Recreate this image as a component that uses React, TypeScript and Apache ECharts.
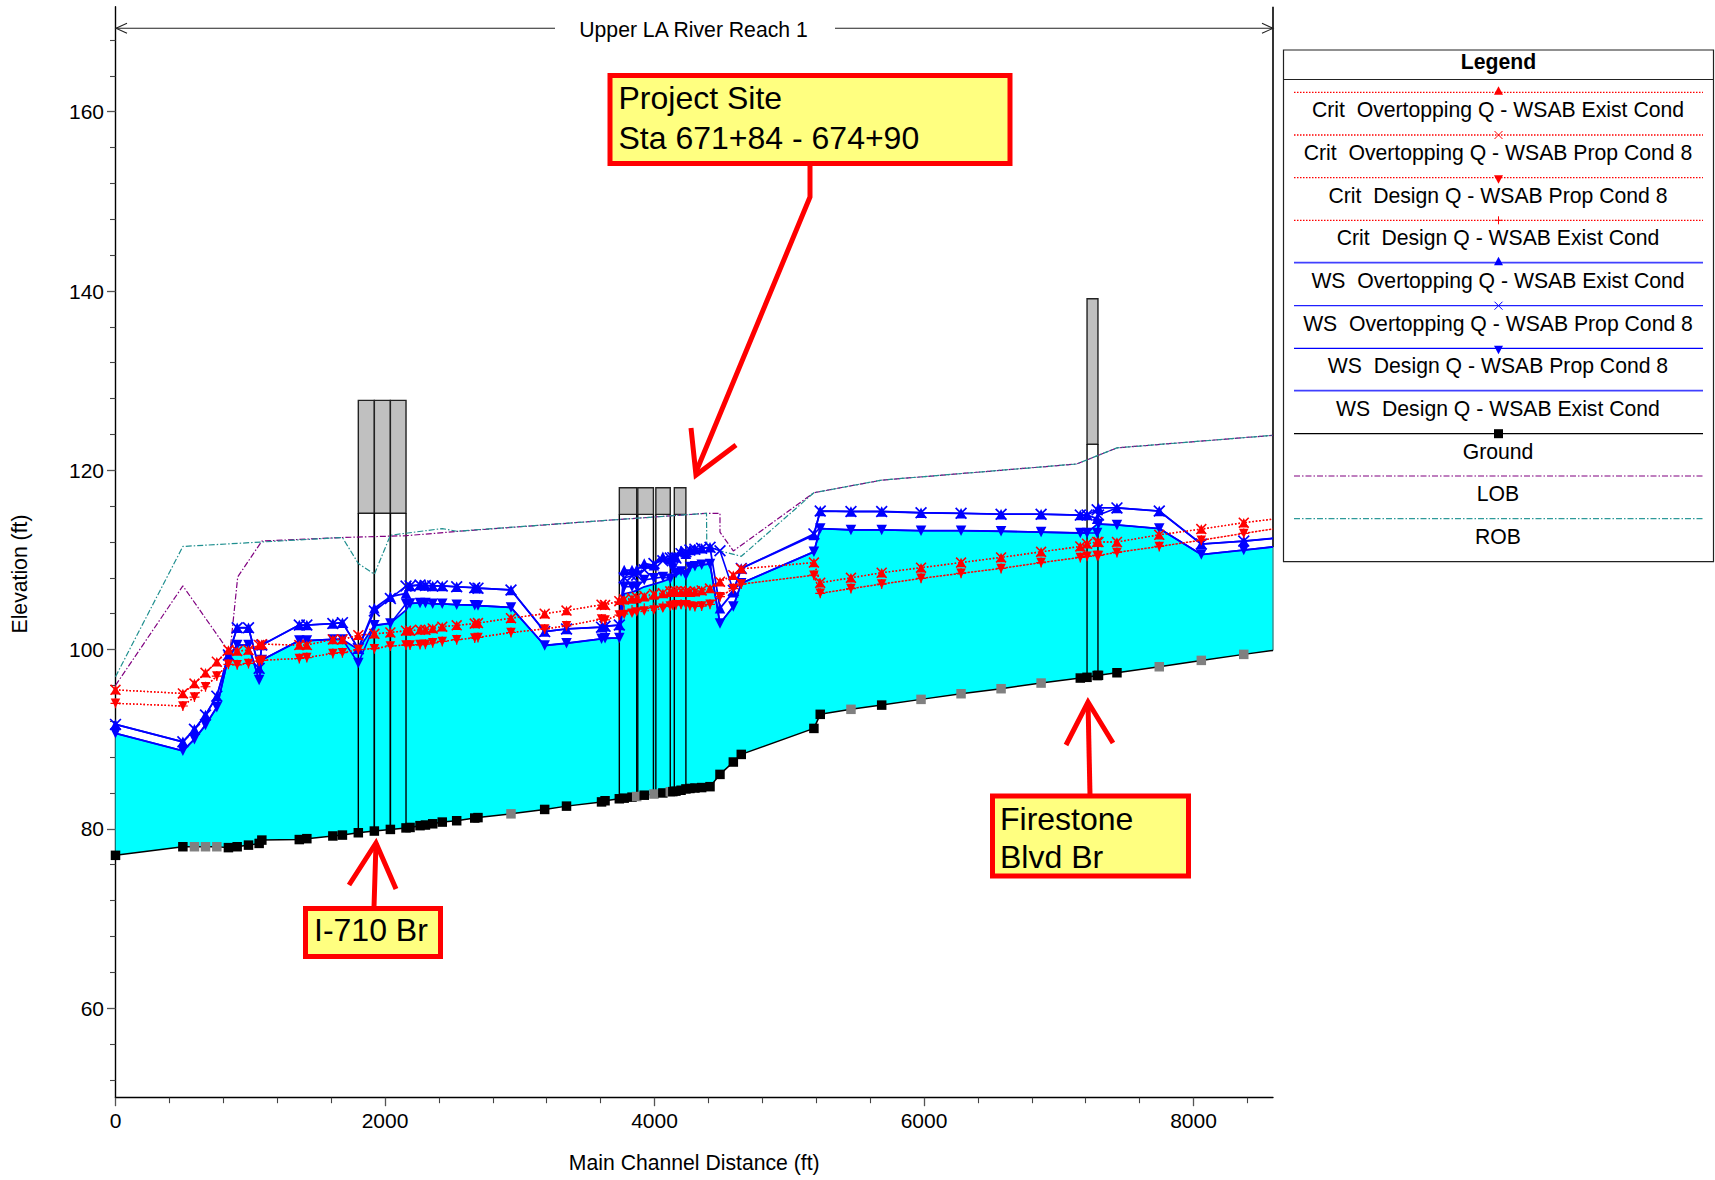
import React, { useEffect, useRef } from "react";
import * as echarts from "echarts";

const FONT = "'Liberation Sans', Arial, sans-serif";

const stations = [
  0, 500, 586, 668, 752, 838, 903, 987, 1066, 1086,
  1364, 1420, 1613, 1684, 1802, 1921, 2040, 2156, 2186, 2260,
  2300, 2354, 2425, 2532, 2666, 2690, 2935, 3185, 3347, 3607,
  3633, 3739, 3775, 3833, 3868, 3924, 3996, 4062, 4117, 4136,
  4159, 4197, 4233, 4263, 4300, 4350, 4412, 4486, 4585, 4644,
  5183, 5230, 5458, 5686, 5978, 6275, 6572, 6869, 7160, 7210,
  7285, 7295, 7432, 7746, 8058, 8373, 8590,
];
const ground = [
  77.04, 78.0, 78.0, 78.0, 78.0, 77.9, 78.0, 78.18, 78.37, 78.74,
  78.8, 78.9, 79.2, 79.3, 79.56, 79.75, 79.93, 80.1, 80.15, 80.35,
  80.42, 80.56, 80.75, 80.9, 81.2, 81.25, 81.67, 82.16, 82.53, 83.0,
  83.13, 83.35, 83.42, 83.53, 83.6, 83.75, 83.88, 84.0, 84.13, 84.15,
  84.2, 84.3, 84.45, 84.5, 84.55, 84.6, 84.7, 86.07, 87.45, 88.3,
  91.2, 92.77, 93.33, 93.8, 94.44, 95.07, 95.63, 96.26, 96.82, 96.9,
  97.1, 97.12, 97.41, 98.08, 98.79, 99.46, 99.9,
];
const grayGroundStations = [586, 668, 752, 2935, 3868, 3996, 4117, 5458, 5978, 6275, 6572, 6869, 7746, 8058, 8373];

const wsOverExist = [
  91.65, 89.7, 91.1, 92.7, 94.8, 99.4, 102.43, 102.43, 97.9, 100.5,
  102.73, 102.73, 102.9, 103.0, 100.1, 104.6, 105.9, 106.27, 107.1, 107.2,
  107.15, 107.1, 107.1, 107.0, 106.9, 106.85, 106.65, 102.0, 102.3, 102.5,
  102.6, 102.73, 108.87, 108.87, 108.9, 109.6, 109.4, 110.36, 110.1, 110.36,
  110.3, 111.03, 110.7, 111.1, 111.2, 111.3, 111.4, 104.6, 106.4, 109.05,
  112.77, 115.45, 115.4, 115.4, 115.26, 115.2, 115.1, 115.1, 115.0, 115.0,
  114.6, 115.8, 115.8, 115.45, 111.77, 112.1, 112.4,
];
const wsOverProp = [
  91.65, 89.7, 91.1, 92.7, 94.8, 99.4, 102.43, 102.43, 97.9, 100.5,
  102.73, 102.73, 102.9, 103.0, 100.1, 104.3, 105.7, 107.08, 107.1, 107.2,
  107.15, 107.1, 107.1, 107.0, 106.9, 106.85, 106.65, 102.0, 102.3, 102.5,
  102.6, 102.73, 108.0, 108.2, 108.3, 108.9, 109.6, 109.9, 110.2, 110.25,
  110.2, 110.7, 110.9, 111.1, 111.2, 111.3, 111.4, 111.03, 106.6, 109.05,
  112.9, 115.45, 115.4, 115.4, 115.26, 115.2, 115.1, 115.1, 115.0, 115.0,
  115.6, 115.0, 115.8, 115.45, 111.77, 112.1, 112.4,
];
const wsDesignProp = [
  90.65, 88.7, 90.0, 91.57, 93.55, 99.2, 100.5, 100.5, 96.6, 98.83,
  101.0, 101.0, 101.13, 101.13, 98.5, 102.7, 102.9, 105.1, 105.15, 105.2,
  105.2, 105.1, 105.1, 105.0, 104.95, 104.9, 104.7, 100.45, 100.7, 101.2,
  101.25, 101.3, 107.0, 107.0, 107.0, 107.75, 107.94, 108.1, 107.9, 109.05,
  108.5, 108.7, 108.3, 109.2, 109.3, 109.45, 109.55, 102.9, 104.8, 107.4,
  110.9, 113.5, 113.35, 113.35, 113.26, 113.26, 113.2, 113.1, 113.0, 113.0,
  113.0, 114.0, 113.9, 113.5, 110.6, 111.1, 111.45,
];
const wsDesignExist = [
  90.65, 88.7, 90.0, 91.57, 93.55, 99.2, 100.5, 100.5, 96.6, 98.83,
  101.0, 101.0, 101.13, 101.13, 100.0, 102.7, 102.95, 104.4, 105.15, 105.2,
  105.2, 105.1, 105.1, 105.0, 104.95, 104.9, 104.7, 100.45, 100.7, 101.2,
  101.25, 101.3, 106.2, 106.4, 106.6, 107.0, 107.3, 107.6, 107.9, 108.2,
  108.3, 108.6, 108.8, 109.2, 109.3, 109.45, 109.55, 102.9, 104.8, 107.4,
  110.9, 113.5, 113.35, 113.35, 113.26, 113.26, 113.2, 113.1, 113.0, 113.0,
  114.0, 114.0, 113.9, 113.5, 110.6, 111.1, 111.45,
];
const critOverExist = [
  95.5, 95.1, 96.2, 97.4, 98.64, 99.94, 99.83, 99.94, 100.5, 100.6,
  100.5, 100.5, 101.13, 101.13, 101.6, 101.75, 101.9, 102.1, 102.1, 102.2,
  102.2, 102.35, 102.55, 102.7, 102.9, 102.95, 103.5, 104.0, 104.35, 105.0,
  104.96, 105.5, 105.55, 105.65, 105.7, 105.9, 106.08, 106.25, 106.4, 106.4,
  106.4, 106.4, 106.4, 106.4, 106.45, 106.6, 106.8, 107.57, 108.3, 109.0,
  109.7, 107.45, 108.0, 108.57, 109.13, 109.7, 110.28, 110.9, 111.5, 111.8,
  112.0, 112.0, 112.0, 112.8, 113.44, 114.15, 114.55,
];
const critOverProp = [
  95.5, 95.1, 96.2, 97.4, 98.64, 99.94, 99.83, 99.94, 100.5, 100.6,
  100.5, 100.5, 101.13, 101.13, 101.6, 101.75, 101.9, 102.1, 102.1, 102.2,
  102.2, 102.35, 102.55, 102.7, 102.9, 102.95, 103.5, 104.0, 104.35, 105.0,
  104.96, 105.4, 105.6, 105.75, 105.85, 106.0, 106.2, 106.3, 106.5, 106.5,
  106.5, 106.55, 106.5, 106.45, 106.5, 106.6, 106.8, 107.57, 108.3, 109.0,
  109.7, 107.45, 108.0, 108.57, 109.13, 109.7, 110.28, 110.9, 111.5, 111.8,
  112.0, 112.0, 112.0, 112.8, 113.44, 114.15, 114.55,
];
const critDesignProp = [
  94.0, 93.7, 94.7, 95.85, 97.04, 98.35, 98.3, 98.45, 98.7, 98.8,
  99.0, 99.1, 99.57, 99.65, 100.0, 100.1, 100.4, 100.5, 100.5, 100.55,
  100.6, 100.75, 100.9, 101.1, 101.3, 101.35, 101.9, 102.3, 102.65, 103.4,
  103.3, 103.85, 103.9, 104.05, 104.2, 104.3, 104.4, 104.6, 104.85, 104.9,
  105.0, 105.0, 105.0, 104.85, 104.8, 104.85, 105.05, 105.9, 106.8, 107.3,
  108.3, 106.27, 106.8, 107.3, 107.94, 108.5, 109.05, 109.7, 110.28, 110.4,
  110.5, 110.5, 110.84, 111.5, 112.2, 112.96, 113.45,
];
const critDesignExist = [
  94.0, 93.7, 94.7, 95.85, 97.04, 98.35, 98.3, 98.45, 98.7, 98.8,
  99.0, 99.1, 99.57, 99.65, 100.0, 100.1, 100.4, 100.5, 100.5, 100.55,
  100.6, 100.75, 100.9, 101.1, 101.3, 101.35, 101.9, 102.3, 102.65, 103.4,
  103.3, 103.85, 104.3, 104.4, 104.5, 104.6, 104.7, 104.8, 104.9, 105.0,
  105.0, 105.05, 105.05, 104.9, 104.8, 104.85, 105.05, 105.9, 106.8, 107.3,
  108.3, 106.27, 106.8, 107.3, 107.94, 108.5, 109.05, 109.7, 110.28, 110.4,
  110.5, 110.5, 110.84, 111.5, 112.2, 112.96, 113.45,
];

const lobX = [0, 500, 812, 850, 907, 1086, 1684, 2156, 2557, 3633, 4386, 4486, 4486, 4585, 5183, 5686, 7133, 7432, 8590];
const lobY = [96, 107.1, 100.4, 99.8, 108.1, 112.1, 112.5, 112.7, 113.2, 114.4, 115.2, 115.2, 113.1, 111.0, 117.5, 118.9, 120.7, 122.5, 123.9];
const robX = [0, 500, 1086, 1684, 1802, 1921, 2040, 2425, 2532, 3633, 4386, 4388, 4486, 4644, 5183, 5686, 7133, 7432, 8590];
const robY = [96.97, 111.5, 112.0, 112.5, 109.6, 108.4, 112.75, 113.5, 113.2, 114.4, 115.2, 111.8, 111.0, 110.4, 117.5, 118.9, 120.7, 122.5, 123.9];

// bridge decks: x1, x2, ground at x1, ground at x2, deck low chord, deck top
const bridgeDecks = [
  [1802, 1921, 79.56, 79.75, 115.2, 127.8],
  [1921, 2040, 79.75, 79.93, 115.2, 127.8],
  [2040, 2156, 79.93, 80.1, 115.2, 127.8],
  [3739, 3868, 83.35, 83.6, 115.08, 118.05],
  [3876, 3992, 83.62, 83.87, 115.08, 118.05],
  [4010, 4117, 83.9, 84.13, 115.08, 118.05],
  [4147, 4233, 84.17, 84.45, 115.08, 118.05],
  [7210, 7291, 96.9, 97.12, 122.9, 139.13],
];

const yLabelTicks = [60, 80, 100, 120, 140, 160];
const yMinorTicks = [52, 56, 64, 68, 72, 76, 84, 88, 92, 96, 104, 108, 112, 116, 124, 128, 132, 136, 144, 148, 152, 156, 164, 168];
const xLabelTicks = [0, 2000, 4000, 6000, 8000];
const xMinorTicks = [400, 800, 1200, 1600, 2400, 2800, 3200, 3600, 4400, 4800, 5200, 5600, 6400, 6800, 7200, 7600, 8400];

const legendLabels = [
  "Crit  Overtopping Q - WSAB Exist Cond",
  "Crit  Overtopping Q - WSAB Prop Cond 8",
  "Crit  Design Q - WSAB Prop Cond 8",
  "Crit  Design Q - WSAB Exist Cond",
  "WS  Overtopping Q - WSAB Exist Cond",
  "WS  Overtopping Q - WSAB Prop Cond 8",
  "WS  Design Q - WSAB Prop Cond 8",
  "WS  Design Q - WSAB Exist Cond",
  "Ground",
  "LOB",
  "ROB",
];

const X_MAX = 8590;
const Y_MIN = 50;
const Y_MAX = 171.72;
const GRID = { left: 115.5, top: 6.7, width: 1157.5, height: 1091 };
const TEXT_SIZE = 21.2;

const X_PATH = "path://M1,0 L5,4 L9,0 L10,1 L6,5 L10,9 L9,10 L5,6 L1,10 L0,9 L4,5 L0,1 Z";
const PLUS_PATH = "path://M4.4,0 L5.6,0 L5.6,4.4 L10,4.4 L10,5.6 L5.6,5.6 L5.6,10 L4.4,10 L4.4,5.6 L0,5.6 L0,4.4 L4.4,4.4 Z";

function lineData(y: number[]) {
  return stations.map((x, i) =>
    i === stations.length - 1 ? { value: [x, y[i]], symbol: "none" } : { value: [x, y[i]] },
  );
}

function markedLine(name: string, y: number[], color: string, dotted: boolean, width: number, symbol: string, size: number, rotate = 0) {
  return {
    type: "line",
    name,
    data: lineData(y),
    symbol,
    symbolSize: size,
    symbolRotate: rotate,
    showSymbol: symbol !== "none",
    showAllSymbol: true,
    clip: false,
    silent: true,
    itemStyle: { color },
    lineStyle: { color, width, type: dotted ? [1.5, 2] : "solid", cap: "butt" },
  };
}

function bankLine(name: string, xs: number[], ys: number[], color: string) {
  return {
    type: "line",
    name,
    data: xs.map((x, i) => [x, ys[i]]),
    symbol: "none",
    silent: true,
    lineStyle: { color, width: 1.2, type: [6, 2, 1.5, 2] },
  };
}

function waterFill(_p: any, api: any) {
  const top = stations.map((x, i) => api.coord([x, wsDesignExist[i]]));
  const bottom = stations.map((x, i) => api.coord([x, ground[i]])).reverse();
  return {
    type: "polygon",
    shape: { points: [...top, ...bottom] },
    style: { fill: "#00FFFF", stroke: "none" },
  };
}

function bridgeItem(_p: any, api: any) {
  const [x1, x2, g1, g2, low, high] = [0, 1, 2, 3, 4, 5].map((i) => api.value(i));
  const a = api.coord([x1, high]);
  const b = api.coord([x2, low]);
  const p1 = api.coord([x1, g1]);
  const p2 = api.coord([x2, g2]);
  const q1 = api.coord([x1, low]);
  const q2 = api.coord([x2, low]);
  const stroke = { stroke: "#000", lineWidth: 1.4, fill: "none" };
  return {
    type: "group",
    children: [
      { type: "rect", shape: { x: a[0], y: a[1], width: b[0] - a[0], height: b[1] - a[1] }, style: { fill: "#C0C0C0", stroke: "#222", lineWidth: 1.4 } },
      { type: "line", shape: { x1: p1[0], y1: p1[1], x2: q1[0], y2: q1[1] }, style: stroke },
      { type: "line", shape: { x1: p2[0], y1: p2[1], x2: q2[0], y2: q2[1] }, style: stroke },
    ],
  };
}

function rightEdge(_p: any, api: any) {
  const last = stations.length - 1;
  const t = api.coord([stations[last], Y_MAX]);
  const w = api.coord([stations[last], wsDesignExist[last]]);
  const g = api.coord([stations[last], ground[last]]);
  return {
    type: "group",
    children: [
      { type: "line", shape: { x1: t[0], y1: t[1], x2: w[0], y2: w[1] }, style: { stroke: "#000", lineWidth: 1.6 } },
      { type: "line", shape: { x1: w[0], y1: w[1], x2: g[0], y2: g[1] }, style: { stroke: "#3a8a8a", lineWidth: 1.4 } },
    ],
  };
}

function callout(box: number[], lines: string[], textX: number, lineYs: number[], shaft: number[][], head: number[][]) {
  const red = "#FF0000";
  return [
    { type: "polyline", z: 30, shape: { points: shaft }, style: { stroke: red, lineWidth: 5, fill: "none" } },
    { type: "polyline", z: 30, shape: { points: head }, style: { stroke: red, lineWidth: 5, fill: "none" } },
    { type: "rect", z: 31, shape: { x: box[0] + 2.5, y: box[1] + 2.5, width: box[2] - box[0] - 5, height: box[3] - box[1] - 5 }, style: { fill: "#FFFF80", stroke: red, lineWidth: 5 } },
    ...lines.map((t, i) => ({
      type: "text", z: 32, x: textX, y: lineYs[i],
      style: { text: t, font: `32px ${FONT}`, fill: "#000", verticalAlign: "middle" },
    })),
  ];
}

function legendGraphics() {
  const L = 1294, R = 1703, CX = 1498.5;
  const ys = [92.3, 135, 177.7, 220.3, 262.7, 305.7, 348.3, 390.7, 433.7, 476, 518.7];
  const styles: any[] = [
    { stroke: "#FF0000", lineWidth: 1.3, lineDash: [1.5, 1.5] },
    { stroke: "#FF0000", lineWidth: 1.3, lineDash: [1.5, 1.5] },
    { stroke: "#FF0000", lineWidth: 1.3, lineDash: [1.5, 1.5] },
    { stroke: "#FF0000", lineWidth: 1.3, lineDash: [1.5, 1.5] },
    { stroke: "#4040FF", lineWidth: 1.8 },
    { stroke: "#2020FF", lineWidth: 1.3 },
    { stroke: "#0000FF", lineWidth: 1.3 },
    { stroke: "#4040FF", lineWidth: 1.8 },
    { stroke: "#000", lineWidth: 1.2 },
    { stroke: "#800080", lineWidth: 1.2, lineDash: [6, 2, 1.5, 2] },
    { stroke: "#2E9A9A", lineWidth: 1.2, lineDash: [6, 2, 1.5, 2] },
  ];
  const out: any[] = [
    { type: "rect", z: 40, shape: { x: 1283.5, y: 50, width: 430, height: 511.7 }, style: { fill: "#fff", stroke: "#222", lineWidth: 1.2 } },
    { type: "line", z: 41, shape: { x1: 1283.5, y1: 79.5, x2: 1713.5, y2: 79.5 }, style: { stroke: "#222", lineWidth: 1 } },
    { type: "text", z: 42, x: CX, y: 61.3, style: { text: "Legend", font: `bold ${TEXT_SIZE}px ${FONT}`, fill: "#000", align: "center", verticalAlign: "middle" } },
  ];
  legendLabels.forEach((label, i) => {
    const y = ys[i];
    out.push({ type: "line", z: 41, shape: { x1: L, y1: y, x2: R, y2: y }, style: styles[i] });
    out.push({ type: "text", z: 42, x: CX - 0.5, y: y + 17.6, style: { text: label, font: `${TEXT_SIZE}px ${FONT}`, fill: "#000", align: "center", verticalAlign: "middle" } });
    const color = i < 4 ? "#FF0000" : "#0000FF";
    if (i === 0 || i === 4) out.push({ type: "polygon", z: 42, shape: { points: [[CX, y - 6], [CX - 4.5, y + 2.5], [CX + 4.5, y + 2.5]] }, style: { fill: color } });
    if (i === 2 || i === 6) out.push({ type: "polygon", z: 42, shape: { points: [[CX, y + 6], [CX - 4.5, y - 2.5], [CX + 4.5, y - 2.5]] }, style: { fill: color } });
    if (i === 1 || i === 5) {
      out.push({ type: "line", z: 42, shape: { x1: CX - 4, y1: y - 4, x2: CX + 4, y2: y + 4 }, style: { stroke: color, lineWidth: 1 } });
      out.push({ type: "line", z: 42, shape: { x1: CX - 4, y1: y + 4, x2: CX + 4, y2: y - 4 }, style: { stroke: color, lineWidth: 1 } });
    }
    if (i === 3) {
      out.push({ type: "line", z: 42, shape: { x1: CX - 4, y1: y, x2: CX + 4, y2: y }, style: { stroke: color, lineWidth: 1 } });
      out.push({ type: "line", z: 42, shape: { x1: CX, y1: y - 4, x2: CX, y2: y + 4 }, style: { stroke: color, lineWidth: 1 } });
    }
    if (i === 8) out.push({ type: "rect", z: 42, shape: { x: CX - 4.5, y: y - 4.5, width: 9, height: 9 }, style: { fill: "#000" } });
  });
  return out;
}

function reachGraphics() {
  const s = { stroke: "#222", lineWidth: 1.1, fill: "none" };
  const y = 28.3;
  return [
    { type: "line", z: 20, shape: { x1: 115.5, y1: y, x2: 555, y2: y }, style: s },
    { type: "line", z: 20, shape: { x1: 835, y1: y, x2: 1273, y2: y }, style: s },
    { type: "polyline", z: 20, shape: { points: [[127, y - 5], [116, y], [127, y + 5]] }, style: s },
    { type: "polyline", z: 20, shape: { points: [[1262, y - 5], [1273, y], [1262, y + 5]] }, style: s },
    { type: "text", z: 20, x: 693.5, y: 29.3, style: { text: "Upper LA River Reach 1", font: `${TEXT_SIZE}px ${FONT}`, fill: "#000", align: "center", verticalAlign: "middle" } },
    { type: "text", z: 20, x: 19, y: 574, rotation: Math.PI / 2, style: { text: "Elevation (ft)", font: `${TEXT_SIZE}px ${FONT}`, fill: "#000", align: "center", verticalAlign: "middle" } },
  ];
}

const plainNumber = (v: number) => String(v);

export default function App() {
  const ref = useRef<HTMLDivElement>(null);
  useEffect(() => {
    const chart = echarts.init(ref.current!, undefined, { renderer: "svg" });
    const axisCommon = {
      type: "value",
      gridIndex: 0,
      splitLine: { show: false },
      minorTick: { show: false },
    };
    chart.setOption({
      animation: false,
      backgroundColor: "#fff",
      grid: { ...GRID, containLabel: false },
      xAxis: [
        {
          ...axisCommon, min: 0, max: X_MAX, position: "bottom",
          name: "Main Channel Distance (ft)", nameLocation: "middle", nameGap: 54,
          nameTextStyle: { fontFamily: FONT, fontSize: TEXT_SIZE, color: "#000" },
          axisLine: { show: true, onZero: false, lineStyle: { color: "#000", width: 1.4 } },
          axisTick: { show: true, length: 8.5, customValues: xLabelTicks, lineStyle: { color: "#555", width: 1.3 } },
          axisLabel: { show: true, margin: 12, customValues: xLabelTicks, formatter: plainNumber, fontFamily: FONT, fontSize: 21, color: "#000", showMinLabel: true },
        },
        {
          ...axisCommon, min: 0, max: X_MAX, position: "bottom",
          axisLine: { show: false },
          axisTick: { show: true, length: 5.5, customValues: xMinorTicks, lineStyle: { color: "#444", width: 1.1 } },
          axisLabel: { show: false },
        },
      ],
      yAxis: [
        {
          ...axisCommon, min: Y_MIN, max: Y_MAX, position: "left",
          axisLine: { show: true, onZero: false, lineStyle: { color: "#000", width: 1.4 } },
          axisTick: { show: true, length: 8.5, customValues: yLabelTicks, lineStyle: { color: "#555", width: 1.3 } },
          axisLabel: { show: true, margin: 11.5, customValues: yLabelTicks, formatter: plainNumber, fontFamily: FONT, fontSize: 21, color: "#000" },
        },
        {
          ...axisCommon, min: Y_MIN, max: Y_MAX, position: "left",
          axisLine: { show: false },
          axisTick: { show: true, length: 5.5, customValues: yMinorTicks, lineStyle: { color: "#444", width: 1.1 } },
          axisLabel: { show: false },
        },
      ],
      series: [
        { type: "custom", name: "Water", silent: true, data: [[0, 100]], renderItem: waterFill, z: 1, clip: false },
        { type: "custom", name: "Bridges", silent: true, data: bridgeDecks, renderItem: bridgeItem, encode: { x: [0, 1], y: [2, 3, 4, 5] }, z: 2, clip: false },
        { type: "custom", name: "Right edge", silent: true, data: [[0, 100]], renderItem: rightEdge, z: 2, clip: false },
        { ...bankLine(legendLabels[9], lobX, lobY, "#800080"), z: 3 },
        { ...bankLine(legendLabels[10], robX, robY, "#1F8F8F"), z: 3 },
        {
          type: "line", name: legendLabels[8], z: 4, silent: true, clip: false,
          data: stations.map((x, i) => {
            const item: any = { value: [x, ground[i]] };
            if (i === stations.length - 1) item.symbol = "none";
            if (grayGroundStations.includes(x)) item.itemStyle = { color: "#808080" };
            return item;
          }),
          symbol: "rect", symbolSize: 9.5, showAllSymbol: true,
          itemStyle: { color: "#000" }, lineStyle: { color: "#000", width: 1.5 },
        },
        { ...markedLine(legendLabels[7], wsDesignExist, "#0000FF", false, 1.8, "none", 0), z: 5 },
        { ...markedLine(legendLabels[6], wsDesignProp, "#0000FF", false, 1.6, "triangle", 10.5, 180), z: 5 },
        { ...markedLine(legendLabels[5], wsOverProp, "#0000FF", false, 1.6, X_PATH, 12), z: 5 },
        { ...markedLine(legendLabels[4], wsOverExist, "#0000FF", false, 1.8, "triangle", 10.5), z: 5 },
        { ...markedLine(legendLabels[3], critDesignExist, "#FF0000", true, 1.4, PLUS_PATH, 10), z: 6 },
        { ...markedLine(legendLabels[2], critDesignProp, "#FF0000", true, 1.4, "triangle", 9.5, 180), z: 6 },
        { ...markedLine(legendLabels[1], critOverProp, "#FF0000", true, 1.4, X_PATH, 11), z: 6 },
        { ...markedLine(legendLabels[0], critOverExist, "#FF0000", true, 1.4, "triangle", 9.5), z: 6 },
      ],
      graphic: [
        ...reachGraphics(),
        ...callout([607.5, 73, 1012.5, 166], ["Project Site", "Sta 671+84 - 674+90"], 618.5, [98, 137.5],
          [[810, 165], [810, 197], [696, 472]], [[691, 428], [696, 475], [736, 445]]),
        ...callout([990, 793.5, 1191, 878.5], ["Firestone", "Blvd Br"], 1000, [818.5, 856.5],
          [[1090, 795], [1088, 702]], [[1066, 745], [1088, 702], [1113, 743]]),
        ...callout([303, 906, 443, 959], ["I-710 Br"], 314, [930],
          [[374, 907], [376, 843]], [[349, 885], [376, 843], [396, 889]]),
        ...legendGraphics(),
      ],
    });
    return () => chart.dispose();
  }, []);
  return <div ref={ref} style={{ position: "absolute", left: 0, top: 0, width: 1715, height: 1180 }} />;
}
